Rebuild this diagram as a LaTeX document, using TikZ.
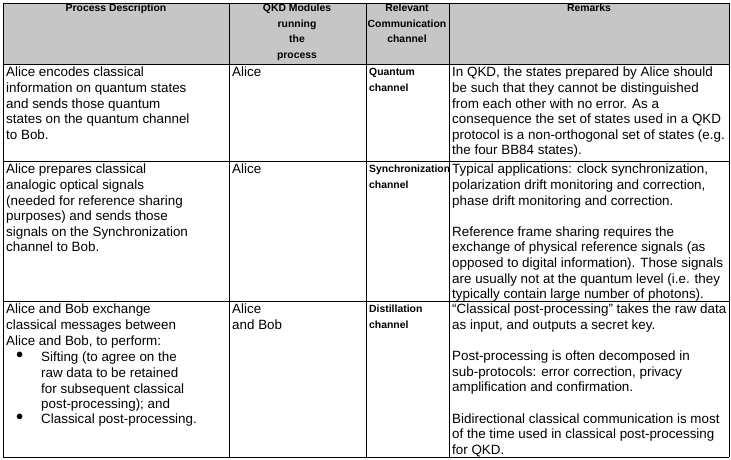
\documentclass[tikz,border=0pt]{standalone}
\usepackage{fontspec}
\setmainfont{Liberation Sans}
\tikzset{
  cell/.style={anchor=north west, align=left, inner sep=0pt,
    font=\fontsize{13.4}{15.6}\selectfont},
  head/.style={anchor=north, align=center, inner sep=0pt,
    font=\fontsize{10.4}{15.6}\selectfont\bfseries},
  bold cell/.style={cell, font=\fontsize{10.4}{15.6}\selectfont\bfseries},
  rule/.style={line width=0.8pt}
}
\begin{document}
\begin{tikzpicture}[x=1pt,y=-1pt]
\useasboundingbox (0,0) rectangle (731,460);
% header shading
\fill[gray!45] (3,3) rectangle (729,64);
% grid
\foreach \y in {3,64,161,301,457}
  \draw[rule] (3,\y) -- (729,\y);
\foreach \x in {3,229,366,449,729}
  \draw[rule] (\x,3) -- (\x,457);
% header
\node[head] (h1) at (116,4) {Process Description};
\node[head] (h2) at (297,4) {QKD Modules\\running\\the\\process};
\node[head] (h3) at (407,4) {Relevant\\Communication\\channel};
\node[head] (h4) at (589,4) {Remarks};
% row 1
\node[cell] (p1) at (6,67) {Alice encodes classical\\information on quantum states\\and sends those quantum\\states on the quantum channel\\to Bob.};
\node[cell] (m1) at (232,67) {Alice};
\node[bold cell] (c1) at (369,68) {Quantum\\channel};
\node[cell] (r1) at (452,67) {In QKD, the states prepared by Alice should\\be such that they cannot be distinguished\\from each other with no error. As a\\consequence the set of states used in a QKD\\protocol is a non-orthogonal set of states (e.g.\\the four BB84 states).};
% row 2
\node[cell] (p2) at (6,164) {Alice prepares classical\\analogic optical signals\\(needed for reference sharing\\purposes) and sends those\\signals on the Synchronization\\channel to Bob.};
\node[cell] (m2) at (232,164) {Alice};
\node[bold cell] (c2) at (369,165) {Synchronization\\channel};
\node[cell] (r2) at (452,164) {Typical applications: clock synchronization,\\polarization drift monitoring and correction,\\phase drift monitoring and correction.\\[15.6pt]Reference frame sharing requires the\\exchange of physical reference signals (as\\opposed to digital information). Those signals\\are usually not at the quantum level (i.e. they\\typically contain large number of photons).};
% row 3
\node[cell] (p3) at (6,304) {Alice and Bob exchange\\classical messages between\\Alice and Bob, to perform:};
\node[cell] (b1) at (16,352) {$\bullet$};
\node[cell] (s1) at (41,352) {Sifting (to agree on the\\raw data to be retained\\for subsequent classical\\post-processing); and};
\node[cell] (b2) at (16,414) {$\bullet$};
\node[cell] (s2) at (41,414) {Classical post-processing.};
\node[cell] (m3) at (232,304) {Alice\\and Bob};
\node[bold cell] (c3) at (369,305) {Distillation\\channel};
\node[cell] (r3) at (452,304) {``Classical post-processing'' takes the raw data\\as input, and outputs a secret key.\\[15.6pt]Post-processing is often decomposed in\\sub-protocols: error correction, privacy\\amplification and confirmation.\\[15.6pt]Bidirectional classical communication is most\\of the time used in classical post-processing\\for QKD.};
\end{tikzpicture}
\end{document}
